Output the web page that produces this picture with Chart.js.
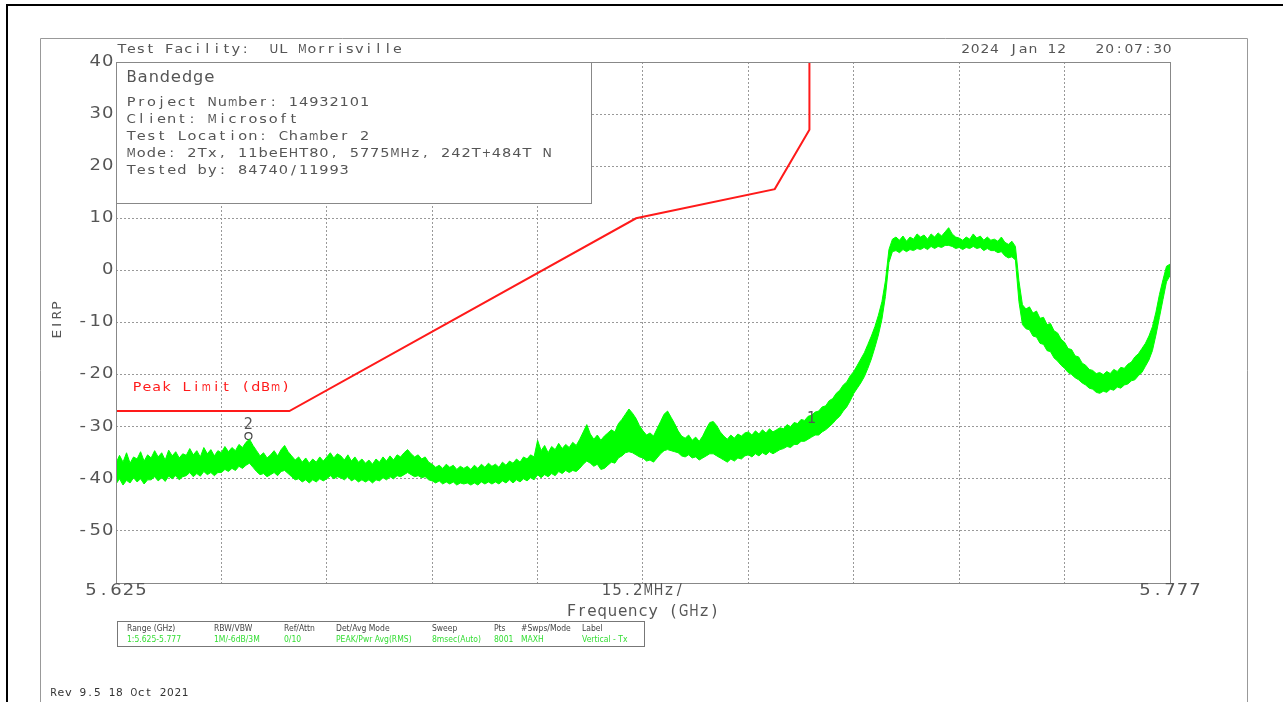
<!DOCTYPE html>
<html><head><meta charset="utf-8">
<script src="https://cdn.jsdelivr.net/npm/chart.js@4.4.0/dist/chart.umd.min.js"></script>
<style>html,body{margin:0;padding:0;background:#fff;}canvas{display:block;}</style>
</head><body>
<canvas id="c" width="1283" height="702"></canvas>
<script>
// ---- data ----
const fStart = 5.625, fStop = 5.777;           // GHz, sweep span
// upper / lower edge of the noisy max-hold trace (dBm), equally spaced over the sweep
const traceHigh = [
-37,-35.5,-36.8,-35,-37,-35.8,-36.2,-34.8,-36.6,-35.4,
-36,-34.6,-35.8,-35,-36.4,-34.5,-35.6,-34.8,-36,-35.2,
-35.5,-34.2,-35.4,-34.6,-35.8,-34,-35.2,-34.4,-35.6,-34.6,
-35,-33.8,-34.8,-34,-34.6,-33.4,-34,-33,-32.4,-33.6,
-34.6,-35.6,-35,-36,-35.4,-34.6,-35.6,-34.4,-33.6,-34.8,
-35.6,-36.4,-35.8,-36.8,-36,-37,-36.2,-36.8,-35.8,-36.6,
-35.8,-35,-36,-35.2,-35.6,-36.4,-35.4,-36.6,-35.8,-36.8,
-36.2,-37,-36.4,-37.2,-36.2,-36.8,-35.8,-36.6,-35.6,-36.4,
-35.4,-35.8,-35,-34.4,-35.2,-35.8,-35.4,-36.2,-35.8,-36.8,
-37.2,-37.8,-37.4,-38,-37.2,-37.8,-37.4,-38.2,-37.6,-38,
-37.6,-38.2,-37.4,-38,-37.2,-37.8,-37,-37.6,-37.2,-37.8,
-36.8,-37.4,-36.6,-37,-36.2,-36.8,-35.8,-36.2,-35.4,-35.8,
-32.6,-34.6,-33.6,-35,-33.8,-34.4,-33.2,-34.2,-33.4,-34,
-33,-33.6,-32.4,-31,-29.6,-31.4,-32.4,-31.6,-32.6,-31.8,
-31.2,-30.6,-31,-29.4,-28.6,-27.6,-26.6,-27.4,-28.4,-29.8,
-30.8,-31.6,-31.2,-31.8,-30.4,-29,-27.6,-27,-28.2,-29.4,
-30.8,-31.8,-32.2,-31.6,-32.6,-32,-32.8,-31.8,-30.4,-29.2,
-29,-29.8,-31,-31.8,-32.4,-31.6,-32.2,-31.4,-31.8,-31.2,
-31,-31.6,-30.8,-31.4,-30.6,-31.2,-30.4,-31,-30.6,-30.2,
-30.4,-29.6,-30,-29.2,-29.4,-28.6,-28.8,-28,-27.8,-27.2,
-27,-26.2,-26,-25,-24.6,-23.6,-23,-22,-21.4,-20.2,
-19.4,-18.2,-17,-15.8,-14.2,-12.6,-10.8,-8.6,-6,-2,
4,6,6.4,5.8,6.6,5.6,6.4,6,7,6.4,
6.8,6,7,6.4,7.2,6.6,7.4,8.2,7,6.4,
6.2,5.8,6.4,6,7,6.2,6.6,5.8,6.4,5.8,
6,5.6,6.4,5.4,5,5.6,4.6,-2,-6.6,-7.4,
-7,-8.2,-7.8,-9.2,-9,-10.4,-10.2,-11.6,-12,-13.2,
-13.8,-15,-15.2,-16.4,-16.6,-17.8,-18.2,-19,-19.2,-19.8,
-19.6,-20,-19.4,-19.8,-19,-19.4,-18.6,-18.8,-18,-17.6,
-16.6,-16,-15,-14,-12.6,-10.8,-8,-4.6,-1.8,0.8,
1.2];
const traceLow = [
-41,-40,-41.2,-40.3,-40.8,-39.8,-40.6,-40,-41,-40.2,
-40.2,-39.6,-40.4,-39.8,-40.5,-39.5,-40,-39.4,-40.2,-39.6,
-39.4,-38.8,-39.6,-39,-39.5,-38.6,-39.2,-38.8,-39.4,-38.8,
-38.8,-38.2,-38.6,-38,-38.4,-37.6,-38,-37.4,-37,-37.8,
-38.6,-39.2,-39,-39.6,-39.2,-38.8,-39.4,-38.6,-38.4,-39,
-39.6,-40.2,-40,-40.6,-40.2,-40.8,-40.2,-40.6,-40,-40.4,
-40,-39.4,-40,-39.6,-39.8,-40.2,-39.6,-40.4,-40,-40.6,
-40.2,-40.6,-40.2,-40.8,-40.2,-40.4,-39.8,-40.2,-39.6,-40,
-39.4,-39.6,-39.2,-38.8,-39.2,-39.6,-39.4,-39.8,-39.6,-40.2,
-40.4,-40.8,-40.4,-41,-40.6,-41,-40.6,-41.2,-40.8,-41,
-40.8,-41.2,-40.8,-41.2,-40.6,-41,-40.6,-41,-40.6,-41,
-40.4,-40.8,-40.2,-40.8,-40.2,-40.6,-40,-40.4,-39.8,-40.2,
-39.2,-39.8,-39.2,-39.6,-39,-39.4,-38.6,-39,-38.4,-38.8,
-38.4,-38.6,-38,-37.2,-36.6,-37,-37.6,-37.2,-38.2,-38,
-37.4,-36.8,-37,-36,-35.6,-35,-34.8,-35,-35.4,-35.8,
-36,-36.6,-36.4,-36.8,-36,-35.2,-34.6,-34.4,-34.6,-34.8,
-35,-35.6,-35.8,-35.4,-36,-35.8,-36.4,-36,-35.6,-35.2,
-35.2,-35.6,-36,-36.4,-36.8,-36.2,-36.6,-36,-36.2,-35.6,
-35.4,-35.8,-35.2,-35.6,-35,-35.4,-34.8,-35.2,-34.8,-34.4,
-34.2,-33.8,-34,-33.4,-33.4,-32.8,-32.8,-32.4,-32,-31.6,
-31.6,-31,-30.6,-30,-29.4,-28.6,-28,-27,-26.2,-25,
-23.6,-22.6,-21.6,-20.4,-18.8,-17,-14.8,-12.4,-9.4,-5,
1.5,3.6,3.8,3.4,4,3.6,4,3.8,4.2,4,
4.4,4,4.6,4.2,4.6,4.4,4.8,4.8,4.6,4.2,
4.4,4,4.4,4.2,4.6,4.2,4.4,3.8,4.2,3.8,
3.8,3.4,3.6,2.8,2.4,2.6,2,-6,-10.4,-11.2,
-11.4,-12.6,-12.8,-14,-14.2,-15.4,-15.6,-16.8,-17.4,-18.2,
-18.8,-19.6,-20,-20.6,-21,-21.6,-22,-22.6,-22.8,-23.4,
-23.6,-23.2,-23.4,-22.8,-23,-22.4,-22.6,-22,-21.8,-21.2,
-21,-20.2,-19.6,-18.4,-17.2,-15.4,-12.4,-9,-5.6,-2.2,
-1];
const limitFreq  = [5.625, 5.650, 5.700, 5.720, 5.725, 5.725];
const limitLevel = [-27, -27, 10, 15.6, 27, 40];
const markerFreq  = [5.7253, 5.6441];
const markerLevel = [-30.6, -31.8];
const markerLabels = ['1', '2'];
const xTicks = [5.625,5.6402,5.6554,5.6706,5.6858,5.701,5.7162,5.7314,5.7466,5.7618,5.777];
const yTicks = [40,30,20,10,0,-10,-20,-30,-40,-50,-60];
const yTickLabels = ['40','30','20','10','0','-10','-20','-30','-40','-50'];
const xTickLabels = ['5.625','15.2MHz/','5.777'];
const infoTitle = 'Bandedge';
const infoLines = ['Project Number: 14932101','Client: Microsoft','Test Location: Chamber 2',
  'Mode: 2Tx, 11beEHT80, 5775MHz, 242T+484T N','Tested by: 84740/11993'];
const tableHeads  = ['Range (GHz)','RBW/VBW','Ref/Attn','Det/Avg Mode','Sweep','Pts','#Swps/Mode','Label'];
const tableValues = ['1:5.625-5.777','1M/-6dB/3M','0/10','PEAK/Pwr Avg(RMS)','8msec(Auto)','8001','MAXH','Vertical - Tx'];

// ---- build datasets ----
const nPts = traceHigh.length;
const sweepX = i => fStart + i * (fStop - fStart) / (nPts - 1);
const hiData = traceHigh.map((v, i) => ({x: sweepX(i), y: v}));
const loData = traceLow.map((v, i) => ({x: sweepX(i), y: v}));
const limData = limitFreq.map((f, i) => ({x: f, y: limitLevel[i]}));
const mkData = markerFreq.map((f, i) => ({x: f, y: markerLevel[i]}));

const GREEN = '#00ff00', RED = '#ff1a1a', TXT = '#555';
const FONT = '"DejaVu Sans", sans-serif';

// plotter-style text: each character in a fixed cell, glyph stretched horizontally
// (wide glyphs are squeezed so they stay inside their cell)
function mono(ctx, text, x, y, cell, size, color, align, sx) {
  sx = sx || 1.15;
  const w = text.length * cell;
  let s = x;
  if (align === 'right') s = x - w; else if (align === 'center') s = x - w / 2;
  ctx.save();
  ctx.font = size + 'px ' + FONT;
  ctx.fillStyle = color;
  ctx.textAlign = 'center';
  ctx.textBaseline = 'middle';
  for (let k = 0; k < text.length; k++) {
    const gw = ctx.measureText(text[k]).width || 1;
    const f = Math.min(sx, (cell * 0.92) / gw);
    ctx.save();
    ctx.translate(s + (k + 0.5) * cell, y);
    ctx.scale(f, 1);
    ctx.fillText(text[k], 0, 0);
    ctx.restore();
  }
  ctx.restore();
}

const decor = {
  id: 'decor',
  beforeDatasetsDraw(chart) {
    const ctx = chart.ctx, a = chart.chartArea;
    ctx.save();
    ctx.fillStyle = '#fff';
    ctx.fillRect(a.left, a.top, 591 - a.left, 203 - a.top);
    ctx.strokeStyle = '#888'; ctx.lineWidth = 1;
    ctx.strokeRect(a.left + 0.5, a.top + 0.5, 591 - a.left, 203 - a.top);
    ctx.restore();
    mono(ctx, infoTitle, 126, 78, 11.1, 15, TXT, 'left', 1.15);
    infoLines.forEach((t, i) => mono(ctx, t, 126, 103 + i * 16.8, 10.15, 13, TXT, 'left', 1.12));
  },
  afterDraw(chart) {
    const ctx = chart.ctx, a = chart.chartArea;
    const xs = chart.scales.x, ys = chart.scales.y;
    ctx.save();
    ctx.strokeStyle = '#000'; ctx.lineWidth = 2;
    ctx.beginPath(); ctx.moveTo(7, 702); ctx.lineTo(7, 5); ctx.lineTo(1283, 5); ctx.stroke();
    ctx.strokeStyle = '#999'; ctx.lineWidth = 1;
    ctx.beginPath(); ctx.moveTo(40.5, 702); ctx.lineTo(40.5, 38.5); ctx.lineTo(1247.5, 38.5); ctx.lineTo(1247.5, 702); ctx.stroke();
    ctx.strokeStyle = '#888';
    ctx.strokeRect(a.left + 0.5, a.top + 0.5, a.right - a.left, a.bottom - a.top);
    ctx.restore();

    mono(ctx, 'Test Facility:  UL Morrisville', 117, 50, 9.5, 13, TXT, 'left', 1.12);
    mono(ctx, '2024 Jan 12   20:07:30', 1172, 50, 9.6, 13, TXT, 'right', 1.12);

    yTickLabels.forEach(t => {
      const v = parseFloat(t);
      mono(ctx, t, a.left - 2, ys.getPixelForValue(v), 12.5, 15, TXT, 'right', 1.2);
    });
    mono(ctx, xTickLabels[0], xs.getPixelForValue(fStart), 591, 12.5, 15, TXT, 'center', 1.2);
    mono(ctx, xTickLabels[1], xs.getPixelForValue((fStart + fStop) / 2), 591, 10.4, 15, TXT, 'center', 1.0);
    mono(ctx, xTickLabels[2], xs.getPixelForValue(fStop), 591, 12.5, 15, TXT, 'center', 1.2);
    mono(ctx, 'Frequency (GHz)', (a.left + a.right) / 2, 612, 10.2, 15, TXT, 'center', 1.05);

    ctx.save(); ctx.translate(58, 320); ctx.rotate(-Math.PI / 2);
    mono(ctx, 'EIRP', 0, 0, 9.5, 13, TXT, 'center', 1.12);
    ctx.restore();

    mono(ctx, 'Peak Limit (dBm)', 132, 388, 9.9, 13, RED, 'left', 1.1);

    markerLabels.forEach((t, i) => {
      const px = xs.getPixelForValue(markerFreq[i]), py = ys.getPixelForValue(markerLevel[i]);
      mono(ctx, t, px, py - 11, 10, 15, TXT, 'center', 1.05);
    });

    ctx.save();
    ctx.strokeStyle = '#777'; ctx.lineWidth = 1;
    ctx.strokeRect(117.5, 621.5, 527, 25);
    ctx.font = '8.5px ' + FONT; ctx.textBaseline = 'middle'; ctx.textAlign = 'left';
    const cols = [127, 214, 284, 336, 432, 494, 521, 582];
    tableHeads.forEach((t, i) => {
      ctx.save(); ctx.translate(cols[i], 628.5); ctx.scale(0.9, 1);
      ctx.fillStyle = '#444'; ctx.fillText(t, 0, 0); ctx.restore();
    });
    tableValues.forEach((t, i) => {
      ctx.save(); ctx.translate(cols[i], 639.5); ctx.scale(0.9, 1);
      ctx.fillStyle = '#33dd33'; ctx.fillText(t, 0, 0); ctx.restore();
    });
    ctx.restore();

    mono(ctx, 'Rev 9.5 18 Oct 2021', 50, 693, 7.3, 11, '#333', 'left', 1.05);
  }
};

Chart.defaults.font.family = FONT;
new Chart(document.getElementById('c'), {
  type: 'line',
  data: {
    datasets: [
      {label: 'traceLow', data: loData, borderColor: GREEN, borderWidth: 1, pointRadius: 0, fill: false, tension: 0},
      {label: 'traceHigh', data: hiData, borderColor: GREEN, borderWidth: 1, pointRadius: 0, fill: '-1', backgroundColor: GREEN, tension: 0},
      {label: 'limit', data: limData, borderColor: RED, borderWidth: 2, pointRadius: 0, fill: false, tension: 0},
      {label: 'markers', data: mkData, showLine: false, pointRadius: 3.5, pointBorderColor: '#444', pointBackgroundColor: 'rgba(0,0,0,0)', pointBorderWidth: 1.2}
    ]
  },
  options: {
    responsive: false, devicePixelRatio: 1, animation: false,
    layout: {padding: {left: 116, right: 113, top: 62, bottom: 119}},
    plugins: {legend: {display: false}, tooltip: {enabled: false}},
    scales: {
      x: {type: 'linear', min: fStart, max: fStop,
          afterBuildTicks: s => { s.ticks = xTicks.map(v => ({value: v})); },
          afterFit: s => { s.height = 0; },
          ticks: {display: false},
          grid: {color: '#999', lineWidth: 1, drawTicks: false},
          border: {display: false, dash: [2, 2]}},
      y: {type: 'linear', min: -60, max: 40,
          afterBuildTicks: s => { s.ticks = yTicks.map(v => ({value: v})); },
          afterFit: s => { s.width = 0; },
          ticks: {display: false},
          grid: {color: '#999', lineWidth: 1, drawTicks: false},
          border: {display: false, dash: [2, 2]}}
    }
  },
  plugins: [decor]
});
</script>
</body></html>
